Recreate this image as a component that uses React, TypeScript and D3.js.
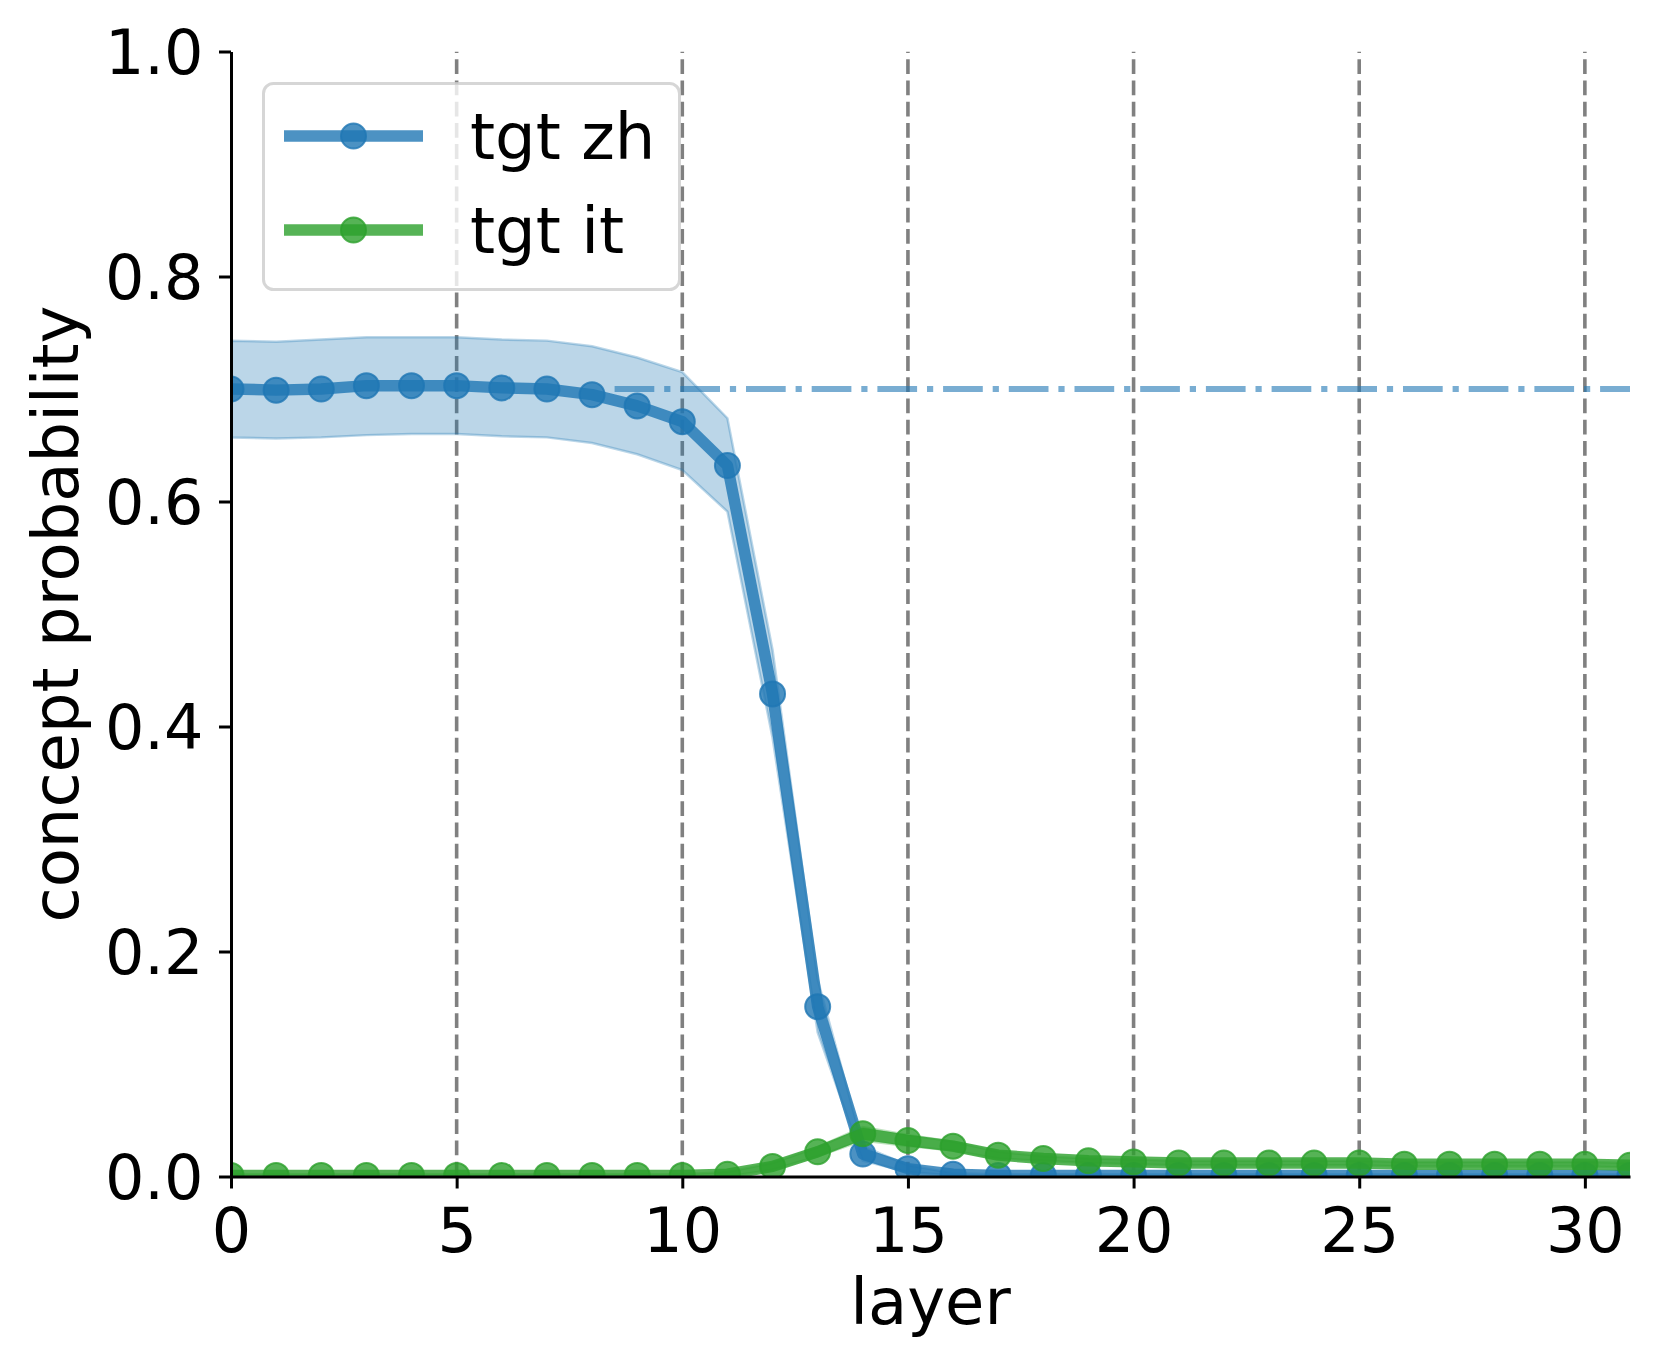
import React, { useEffect, useRef } from "react";
import * as d3 from "d3";

// layer index on x, concept probability on y
const layers = d3.range(0, 32);

const zhMean = [
  0.7, 0.699, 0.7, 0.703, 0.703, 0.703, 0.701, 0.7, 0.695, 0.685, 0.671, 0.632,
  0.429, 0.151, 0.02, 0.007, 0.002, 0.001, 0.001, 0.001, 0.001, 0.001, 0.001,
  0.001, 0.001, 0.001, 0.001, 0.001, 0.001, 0.001, 0.001, 0.001,
];
const zhUpper = [
  0.743, 0.742, 0.744, 0.746, 0.746, 0.746, 0.744, 0.743, 0.738, 0.728, 0.715,
  0.674, 0.468, 0.175, 0.027, 0.01, 0.003, 0.002, 0.002, 0.002, 0.002, 0.002,
  0.002, 0.002, 0.002, 0.002, 0.002, 0.002, 0.002, 0.002, 0.002, 0.002,
];
const zhLower = [
  0.657, 0.656, 0.657, 0.659, 0.66, 0.66, 0.658, 0.657, 0.652, 0.642, 0.628,
  0.591, 0.39, 0.128, 0.014, 0.004, 0.001, 0.0, 0.0, 0.0, 0.0, 0.0, 0.0, 0.0,
  0.0, 0.0, 0.0, 0.0, 0.0, 0.0, 0.0, 0.0,
];

const itMean = [
  0.001, 0.001, 0.001, 0.001, 0.001, 0.001, 0.001, 0.001, 0.001, 0.001, 0.001,
  0.002, 0.009, 0.022, 0.038, 0.032, 0.027, 0.019, 0.016, 0.014, 0.013, 0.012,
  0.012, 0.012, 0.012, 0.012, 0.011, 0.011, 0.011, 0.011, 0.011, 0.01,
];
const itUpper = [
  0.002, 0.002, 0.002, 0.002, 0.002, 0.002, 0.002, 0.002, 0.002, 0.002, 0.002,
  0.004, 0.012, 0.026, 0.044, 0.037, 0.031, 0.022, 0.018, 0.016, 0.015, 0.014,
  0.014, 0.014, 0.014, 0.014, 0.013, 0.013, 0.013, 0.013, 0.013, 0.012,
];
const itLower = [
  0.0, 0.0, 0.0, 0.0, 0.0, 0.0, 0.0, 0.0, 0.0, 0.0, 0.0, 0.0, 0.006, 0.018,
  0.032, 0.027, 0.023, 0.016, 0.014, 0.012, 0.011, 0.01, 0.01, 0.01, 0.01,
  0.01, 0.009, 0.009, 0.009, 0.009, 0.009, 0.008,
];

const seriesNames = ["tgt zh", "tgt it"];
const seriesColors = ["#1f77b4", "#2ca02c"];

const refLevel = 0.7;
const refStart = 8.5;

const xTicks = [0, 5, 10, 15, 20, 25, 30];
const yTicks = [0, 0.2, 0.4, 0.6, 0.8, 1.0];
const gridLayers = [5, 10, 15, 20, 25, 30];

const xLabel = "layer";
const yLabel = "concept probability";

const WIDTH = 1660;
const HEIGHT = 1371;
const FONT = "'DejaVu Sans', sans-serif";
const TICK_SIZE = 62;
const LABEL_SIZE = 64;

function App() {
  const svgRef = useRef(null);

  useEffect(() => {
    const svg = d3.select(svgRef.current);
    svg.selectAll("*").remove();

    const left = 231;
    const right = 1630;
    const top = 51.5;
    const bottom = 1176.5;

    const x = d3.scaleLinear().domain([0, 31]).range([left, right]);
    const y = d3.scaleLinear().domain([0, 1]).range([bottom, top]);

    svg
      .append("defs")
      .append("clipPath")
      .attr("id", "plot-clip")
      .append("rect")
      .attr("x", left)
      .attr("y", top)
      .attr("width", right - left)
      .attr("height", bottom - top);

    const plot = svg.append("g").attr("clip-path", "url(#plot-clip)");

    // dashed vertical guides every 5 layers
    plot
      .selectAll("line.grid")
      .data(gridLayers)
      .join("line")
      .attr("class", "grid")
      .attr("x1", (d) => x(d))
      .attr("x2", (d) => x(d))
      .attr("y1", bottom)
      .attr("y2", top)
      .attr("stroke", "#808080")
      .attr("stroke-width", 3.6)
      .attr("stroke-dasharray", "14.8,6.4");

    const series = [
      { mean: zhMean, upper: zhUpper, lower: zhLower },
      { mean: itMean, upper: itUpper, lower: itLower },
    ];
    const idx = layers.map((_, i) => i);

    series.forEach((s, k) => {
      const band = d3
        .area()
        .x((i) => x(layers[i]))
        .y0((i) => y(s.lower[i]))
        .y1((i) => y(s.upper[i]));
      plot
        .append("path")
        .attr("d", band(idx))
        .attr("fill", seriesColors[k])
        .attr("fill-opacity", 0.3)
        .attr("stroke", seriesColors[k])
        .attr("stroke-opacity", 0.3)
        .attr("stroke-width", 2.5);
    });

    series.forEach((s, k) => {
      const line = d3
        .line()
        .x((i) => x(layers[i]))
        .y((i) => y(s.mean[i]));
      plot
        .append("path")
        .attr("d", line(idx))
        .attr("fill", "none")
        .attr("stroke", seriesColors[k])
        .attr("stroke-opacity", 0.8)
        .attr("stroke-width", 11.5)
        .attr("stroke-linejoin", "round");

      plot
        .append("g")
        .selectAll("circle")
        .data(layers)
        .join("circle")
        .attr("cx", (d) => x(d))
        .attr("cy", (d, i) => y(s.mean[i]))
        .attr("r", 12.5)
        .attr("fill", seriesColors[k])
        .attr("fill-opacity", 0.8)
        .attr("stroke", seriesColors[k])
        .attr("stroke-opacity", 0.8)
        .attr("stroke-width", 2);
    });

    // reference level of the source language
    plot
      .append("line")
      .attr("x1", x(refStart))
      .attr("x2", x(31))
      .attr("y1", y(refLevel))
      .attr("y2", y(refLevel))
      .attr("stroke", seriesColors[0])
      .attr("stroke-opacity", 0.6)
      .attr("stroke-width", 6.2)
      .attr("stroke-dasharray", "39.7,9.9,6.2,9.9");

    // axes
    const xAxis = svg
      .append("g")
      .attr("transform", `translate(0,${bottom})`)
      .call(
        d3
          .axisBottom(x)
          .tickValues(xTicks)
          .tickFormat(d3.format("d"))
          .tickSize(12)
          .tickSizeOuter(0),
      );
    xAxis.select(".domain").attr("stroke", "#000").attr("stroke-width", 3);
    xAxis.selectAll(".tick line").attr("stroke", "#000").attr("stroke-width", 3);
    xAxis
      .selectAll(".tick text")
      .attr("y", 75)
      .attr("dy", null)
      .attr("fill", "#000")
      .attr("font-family", FONT)
      .attr("font-size", TICK_SIZE);

    const yAxis = svg
      .append("g")
      .attr("transform", `translate(${left},0)`)
      .call(
        d3
          .axisLeft(y)
          .tickValues(yTicks)
          .tickFormat(d3.format(".1f"))
          .tickSize(12)
          .tickSizeOuter(0),
      );
    yAxis.select(".domain").attr("stroke", "#000").attr("stroke-width", 3);
    yAxis.selectAll(".tick line").attr("stroke", "#000").attr("stroke-width", 3);
    yAxis
      .selectAll(".tick text")
      .attr("x", -27.5)
      .attr("dy", "0.36em")
      .attr("fill", "#000")
      .attr("font-family", FONT)
      .attr("font-size", TICK_SIZE);

    svg
      .append("text")
      .attr("x", (left + right) / 2)
      .attr("y", 1324)
      .attr("text-anchor", "middle")
      .attr("font-family", FONT)
      .attr("font-size", LABEL_SIZE)
      .text(xLabel);

    svg
      .append("text")
      .attr("transform", `translate(77.5,${(top + bottom) / 2}) rotate(-90)`)
      .attr("text-anchor", "middle")
      .attr("font-family", FONT)
      .attr("font-size", LABEL_SIZE)
      .text(yLabel);

    // legend
    const legend = svg.append("g");
    legend
      .append("rect")
      .attr("x", 263.5)
      .attr("y", 83.5)
      .attr("width", 416)
      .attr("height", 206)
      .attr("rx", 10)
      .attr("fill", "#fff")
      .attr("fill-opacity", 0.8)
      .attr("stroke", "#cccccc")
      .attr("stroke-opacity", 0.8)
      .attr("stroke-width", 3);

    seriesNames.forEach((name, k) => {
      const ly = 136 + k * 94;
      legend
        .append("line")
        .attr("x1", 284)
        .attr("x2", 423)
        .attr("y1", ly)
        .attr("y2", ly)
        .attr("stroke", seriesColors[k])
        .attr("stroke-opacity", 0.8)
        .attr("stroke-width", 11.5);
      legend
        .append("circle")
        .attr("cx", 353.5)
        .attr("cy", ly)
        .attr("r", 12.5)
        .attr("fill", seriesColors[k])
        .attr("fill-opacity", 0.8)
        .attr("stroke", seriesColors[k])
        .attr("stroke-opacity", 0.8)
        .attr("stroke-width", 2);
      legend
        .append("text")
        .attr("x", 470)
        .attr("y", ly + 23)
        .attr("font-family", FONT)
        .attr("font-size", LABEL_SIZE)
        .text(name);
    });
  }, []);

  return (
    <svg
      ref={svgRef}
      width={WIDTH}
      height={HEIGHT}
      style={{ position: "absolute", left: 0, top: 0, background: "#fff" }}
    />
  );
}

export default App;
